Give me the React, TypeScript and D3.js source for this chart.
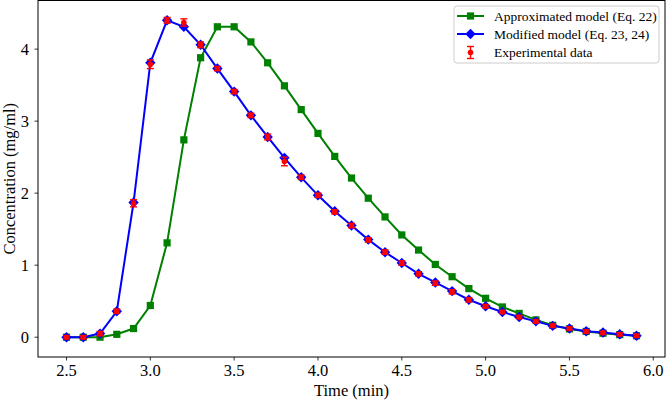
import React from 'react';
import * as d3 from 'd3';

const time = [2.5, 2.6, 2.7, 2.8, 2.9, 3.0, 3.1, 3.2, 3.3, 3.4, 3.5, 3.6, 3.7, 3.8, 3.9, 4.0, 4.1, 4.2,
  4.3, 4.4, 4.5, 4.6, 4.7, 4.8, 4.9, 5.0, 5.1, 5.2, 5.3, 5.4, 5.5, 5.6, 5.7, 5.8, 5.9];

// Approximated model (Eq. 22)
const approx = [0, 0, 0, 0.04, 0.12, 0.44, 1.31, 2.74, 3.88, 4.31, 4.31, 4.10, 3.81, 3.49, 3.16, 2.83,
  2.51, 2.21, 1.93, 1.67, 1.42, 1.21, 1.01, 0.84, 0.675, 0.54, 0.42, 0.33, 0.24, 0.165, 0.115, 0.08,
  0.055, 0.035, 0.02];

// Modified model (Eq. 23, 24)
const modified = [0, 0, 0.05, 0.36, 1.87, 3.81, 4.40, 4.31, 4.06, 3.73, 3.41, 3.08, 2.78, 2.49, 2.22,
  1.97, 1.75, 1.55, 1.355, 1.18, 1.03, 0.88, 0.76, 0.64, 0.52, 0.43, 0.35, 0.28, 0.22, 0.157, 0.12,
  0.083, 0.065, 0.04, 0.02];

// Experimental data with error
const experimental = [0, 0, 0.05, 0.36, 1.86, 3.79, 4.40, 4.37, 4.06, 3.73, 3.41, 3.08, 2.78, 2.44,
  2.22, 1.97, 1.74, 1.55, 1.35, 1.18, 1.03, 0.88, 0.75, 0.63, 0.52, 0.43, 0.35, 0.28, 0.22, 0.16, 0.12,
  0.08, 0.06, 0.04, 0.02];
const expError = [0.02, 0.02, 0.03, 0.03, 0.05, 0.06, 0.04, 0.05, 0.04, 0.03, 0.03, 0.03, 0.04, 0.06,
  0.03, 0.03, 0.03, 0.03, 0.03, 0.03, 0.03, 0.03, 0.03, 0.03, 0.03, 0.02, 0.02, 0.02, 0.02, 0.02, 0.02,
  0.02, 0.02, 0.02, 0.02];

const xTicks = [2.5, 3.0, 3.5, 4.0, 4.5, 5.0, 5.5, 6.0];
const yTicks = [0, 1, 2, 3, 4];

const W = 666;
const H = 403;
const FONT = '"Liberation Serif", "DejaVu Serif", serif';
const AXIS_FS = 16.5;

const App = () => {
  const x = d3.scaleLinear().domain([2.33, 6.07]).range([38, 665]);
  const y = d3.scaleLinear().domain([-0.275, 4.675]).range([357, 0.5]);

  const line = d3.line<number>()
    .x((_, i) => x(time[i]))
    .y(d => y(d));

  const square = (cx: number, cy: number, key: string | number) => (
    <rect key={key} x={cx - 3.6} y={cy - 3.6} width={7.2} height={7.2} fill="#008000" />
  );
  const diamond = (cx: number, cy: number, key: string | number) => {
    const r = 5.2;
    return (
      <polygon key={key} points={`${cx},${cy - r} ${cx + r},${cy} ${cx},${cy + r} ${cx - r},${cy}`}
        fill="#0000ff" />
    );
  };
  const errBar = (cx: number, lo: number, hi: number, cy: number, key: string | number) => (
    <g key={key} stroke="#ff0000" strokeWidth={1.4}>
      <line x1={cx} x2={cx} y1={lo} y2={hi} />
      <line x1={cx - 3.5} x2={cx + 3.5} y1={lo} y2={lo} />
      <line x1={cx - 3.5} x2={cx + 3.5} y1={hi} y2={hi} />
      <circle cx={cx} cy={cy} r={2.8} fill="#ff0000" stroke="none" />
    </g>
  );

  const [x0, x1] = x.range();
  const [yb, yt] = y.range();

  return (
    <div style={{ position: 'fixed', left: 0, top: 0 }}>
      <svg width={W} height={H} style={{ display: 'block', background: '#fff' }} fontFamily={FONT}>
        {/* series */}
        <path d={line(approx) || ''} fill="none" stroke="#008000" strokeWidth={2} />
        {approx.map((v, i) => square(x(time[i]), y(v), 'g' + i))}
        <path d={line(modified) || ''} fill="none" stroke="#0000ff" strokeWidth={2} />
        {modified.map((v, i) => diamond(x(time[i]), y(v), 'b' + i))}
        {experimental.map((v, i) =>
          errBar(x(time[i]), y(v - expError[i]), y(v + expError[i]), y(v), 'r' + i))}

        {/* frame */}
        <rect x={x0} y={yt} width={x1 - x0} height={yb - yt} fill="none" stroke="#000" strokeWidth={1} />

        {/* x axis */}
        {xTicks.map(t => (
          <g key={'xt' + t}>
            <line x1={x(t)} x2={x(t)} y1={yb} y2={yb + 3.5} stroke="#000" strokeWidth={0.8} />
            <text x={x(t)} y={yb + 18.5} textAnchor="middle" fontSize={AXIS_FS}>{t.toFixed(1)}</text>
          </g>
        ))}
        <text x={(x0 + x1) / 2} y={396} textAnchor="middle" fontSize={AXIS_FS}>Time (min)</text>

        {/* y axis */}
        {yTicks.map(t => (
          <g key={'yt' + t}>
            <line x1={x0} x2={x0 - 3.5} y1={y(t)} y2={y(t)} stroke="#000" strokeWidth={0.8} />
            <text x={x0 - 9} y={y(t) + 5.5} textAnchor="end" fontSize={AXIS_FS}>{t}</text>
          </g>
        ))}
        <text transform={`translate(15,${(yb + yt) / 2}) rotate(-90)`} textAnchor="middle" fontSize={AXIS_FS}>
          Concentration (mg/ml)
        </text>

        {/* legend */}
        <g>
          <rect x={454} y={6} width={205} height={57} rx={3} fill="#fff" fillOpacity={0.8}
            stroke="#cccccc" strokeWidth={1} />
          <line x1={457} x2={484} y1={16} y2={16} stroke="#008000" strokeWidth={2} />
          {square(470.5, 16, 'lg')}
          <text x={494} y={20.5} fontSize={13.5}>Approximated model (Eq. 22)</text>
          <line x1={457} x2={484} y1={34} y2={34} stroke="#0000ff" strokeWidth={2} />
          {diamond(470.5, 34, 'lb')}
          <text x={494} y={38.5} fontSize={13.5}>Modified model (Eq. 23, 24)</text>
          {errBar(470.5, 58.5, 46.5, 52.5, 'lr')}
          <text x={494} y={57} fontSize={13.5}>Experimental data</text>
        </g>
      </svg>
    </div>
  );
};

export default App;
